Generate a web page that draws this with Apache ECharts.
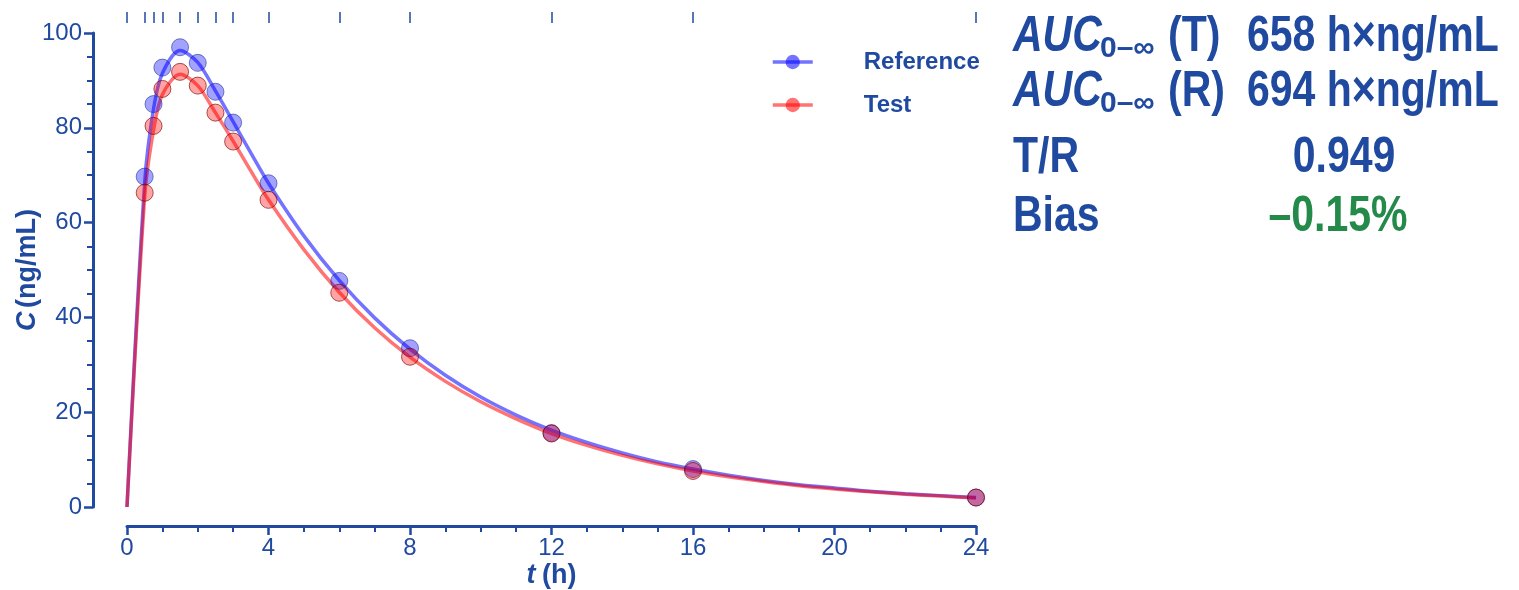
<!DOCTYPE html>
<html>
<head>
<meta charset="utf-8">
<script src="https://cdn.jsdelivr.net/npm/echarts@6/dist/echarts.min.js"></script>
<style>
html,body{margin:0;padding:0;background:#fff;}
#chart{width:1519px;height:590px;}
</style>
</head>
<body>
<div id="chart"></div>
<script>
// Sampling times (h) and observed concentrations (ng/mL)
var sampleTimes = [0.5, 0.75, 1, 1.5, 2, 2.5, 3, 4, 6, 8, 12, 16, 24];
var referenceObs = [69.7, 85.0, 92.7, 97.0, 93.7, 87.6, 81.1, 68.3, 47.7, 33.5, 15.6, 8.0, 2.0];
var testObs      = [66.3, 80.4, 88.2, 91.8, 88.9, 83.2, 77.1, 64.8, 45.2, 31.7, 15.5, 7.6, 2.0];

// Fitted curves
var curveTimes     = [0, 0.5, 0.75, 1, 1.5, 2, 2.5, 3, 3.5, 4, 5, 6, 7, 8, 9, 10, 11, 12, 13, 14, 15, 16, 17, 18, 19, 20, 21, 22, 23, 24];
var referenceCurve = [0, 68.5, 84.0, 91.5, 96.3, 93.8, 87.8, 81.3, 74.7, 68.3, 57.2, 47.8, 39.9, 33.3, 27.8, 23.2, 19.4, 16.2, 13.6, 11.4, 9.5, 8.0, 6.7, 5.6, 4.7, 4.0, 3.3, 2.8, 2.4, 2.0];
var testCurve      = [0, 65.5, 79.5, 87.0, 91.3, 88.9, 83.2, 77.2, 70.9, 64.8, 54.3, 45.3, 37.8, 31.6, 26.5, 22.2, 18.6, 15.5, 13.0, 10.9, 9.1, 7.6, 6.4, 5.4, 4.5, 3.8, 3.2, 2.7, 2.3, 1.9];

// Rug ticks on top (sampling times)
var rugTimes = [0, 0.5, 0.75, 1, 1.5, 2, 2.5, 3, 4, 6, 8, 12, 16, 24];

var summaryLabels = ['T/R', 'Bias'];
var summaryValues = ['0.949', '\u20130.15%'];
var aucT = '658 h\u00d7ng/mL';
var aucR = '694 h\u00d7ng/mL';

function pairs(xs, ys){ return xs.map(function(x,i){ return [x, ys[i]]; }); }

var AX = '#1f4aa0';
var GREEN = '#238a4a';
var SANS = '"Liberation Sans", Arial, sans-serif';
var NX = 0.82; // horizontal condensing for the narrow bold font

var chart = echarts.init(document.getElementById('chart'), null, {renderer:'canvas'});

function axisBase(){
  return {
    axisLine:{show:true, onZero:false, lineStyle:{color:AX, width:3}},
    axisTick:{show:true, inside:false, length:9, lineStyle:{color:AX, width:2.5}},
    minorTick:{show:true, splitNumber:4, length:6, lineStyle:{color:AX, width:2}},
    splitLine:{show:false}
  };
}

var nameRich = {
  i:{fontStyle:'italic', fontWeight:'bold', fontSize:27, color:AX, fontFamily:SANS},
  b:{fontWeight:'bold', fontSize:27, color:AX, fontFamily:SANS}
};

var xMain = axisBase();
Object.assign(xMain, {
  type:'value', min:0, max:24, interval:4, offset:19, position:'bottom',
  name:'{i|t}  {b|(h)}', nameLocation:'middle', nameGap:36, nameMoveOverlap:false,
  nameTextStyle:{rich:nameRich},
  axisLabel:{color:AX, fontSize:24, fontFamily:SANS, margin:10}
});

var yMain = axisBase();
Object.assign(yMain, {
  type:'value', min:0, max:100, interval:20, offset:34,
  name:'{i|C} {b|(ng/mL)}', nameLocation:'middle', nameGap:52, nameRotate:90, nameMoveOverlap:false,
  nameTextStyle:{rich:nameRich},
  axisLabel:{color:AX, fontSize:24, fontFamily:SANS, margin:11}
});

function txt(x, y, text, size, opts){
  opts = opts || {};
  return {
    type:'text', x:x, y:y, scaleX:opts.scaleX == null ? NX : opts.scaleX,
    style:{
      text:text,
      font:(opts.italic ? 'italic ' : '') + 'bold ' + size + 'px ' + SANS,
      fill:opts.fill || AX,
      align:opts.align || 'left',
      verticalAlign:'top'
    }
  };
}

var option = {
  animation:false,
  backgroundColor:'#fff',
  grid:{left:127, right:543, top:33, bottom:83, containLabel:false, outerBoundsMode:'none'},
  xAxis:[
    xMain,
    {
      type:'value', min:0, max:24, position:'top', offset:10, gridIndex:0,
      axisLine:{show:false, onZero:false},
      axisTick:{show:true, length:11, customValues:rugTimes, lineStyle:{color:AX, width:1.5}},
      axisLabel:{show:false},
      splitLine:{show:false}
    }
  ],
  yAxis:[yMain],
  legend:{
    orient:'vertical', left:766, top:45,
    itemWidth:40, itemHeight:18, itemGap:19,
    data:['Reference','Test'],
    lineStyle:{width:3.5},
    textStyle:{color:AX, fontSize:24, fontWeight:'bold', fontFamily:SANS, lineHeight:24, padding:[0,0,0,46]}
  },
  series:[
    {
      name:'Reference', type:'line', xAxisIndex:0, yAxisIndex:0,
      data:pairs(curveTimes, referenceCurve),
      smooth:0.3,
      symbol:'circle', showSymbol:false, symbolSize:16,
      lineStyle:{color:'rgba(0,0,255,0.55)', width:3.5},
      itemStyle:{color:'rgba(0,0,255,0.55)'},
      emphasis:{disabled:true}, z:2
    },
    {
      name:'Test', type:'line', xAxisIndex:0, yAxisIndex:0,
      data:pairs(curveTimes, testCurve),
      smooth:0.3,
      symbol:'circle', showSymbol:false, symbolSize:16,
      lineStyle:{color:'rgba(255,0,0,0.55)', width:3.5},
      itemStyle:{color:'rgba(255,0,0,0.55)'},
      emphasis:{disabled:true}, z:3
    },
    {
      name:'Reference obs', type:'scatter', xAxisIndex:0, yAxisIndex:0,
      data:pairs(sampleTimes, referenceObs),
      symbol:'circle', symbolSize:17,
      itemStyle:{color:'rgba(0,0,255,0.45)', borderColor:'rgba(20,40,140,0.7)', borderWidth:1},
      emphasis:{disabled:true}, z:4
    },
    {
      name:'Test obs', type:'scatter', xAxisIndex:0, yAxisIndex:0,
      data:pairs(sampleTimes, testObs),
      symbol:'circle', symbolSize:17,
      itemStyle:{color:'rgba(255,0,0,0.45)', borderColor:'rgba(120,0,0,0.8)', borderWidth:1},
      emphasis:{disabled:true}, z:5
    }
  ],
  graphic:[
    txt(1013, 12, 'AUC', 50, {italic:true}),
    txt(1100, 34, '0\u2013\u221e', 30, {scaleX:1}),
    txt(1168, 12, '(T)', 50),
    txt(1247, 12, aucT, 50),
    txt(1013, 67, 'AUC', 50, {italic:true}),
    txt(1100, 89, '0\u2013\u221e', 30, {scaleX:1}),
    txt(1168, 67, '(R)', 50),
    txt(1247, 67, aucR, 50),
    txt(1013, 133, summaryLabels[0], 50),
    txt(1344, 133, summaryValues[0], 50, {align:'center'}),
    txt(1013, 192, summaryLabels[1], 50),
    txt(1338, 192, summaryValues[1], 50, {align:'center', fill:GREEN})
  ]
};
chart.setOption(option);
</script>
</body>
</html>
